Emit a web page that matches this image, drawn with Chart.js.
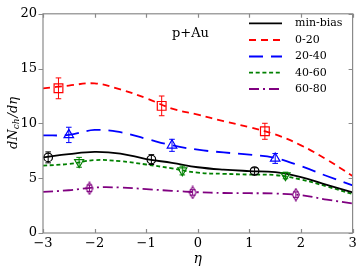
<!DOCTYPE html>
<html><head><meta charset="utf-8">
<script src="https://cdn.jsdelivr.net/npm/chart.js@4/dist/chart.umd.min.js"></script>
<style>html,body{margin:0;padding:0;background:#fff}canvas{display:block}</style>
</head><body>
<canvas id="c" width="360" height="270"></canvas>
<script>
// ---- data ----
const etaGrid = [-3, -2.5, -2, -1.5, -1, -0.5, 0, 0.5, 1, 1.5, 2, 2.5, 3];
const curveMinBias = [6.9, 7.2, 7.4, 7.25, 6.75, 6.4, 6.0, 5.78, 5.65, 5.55, 5.1, 4.4, 3.7];
const curve0_20   = [13.2, 13.45, 13.65, 13.1, 12.3, 11.35, 10.8, 10.2, 9.65, 9.0, 8.0, 6.7, 5.2];
const curve20_40  = [8.9, 8.95, 9.4, 9.2, 8.6, 8.0, 7.6, 7.35, 7.15, 6.85, 6.1, 5.2, 4.35];
const curve40_60  = [6.15, 6.3, 6.65, 6.55, 6.25, 5.9, 5.5, 5.4, 5.33, 5.28, 4.88, 4.25, 3.55];
const curve60_80  = [3.75, 3.9, 4.15, 4.15, 4.0, 3.85, 3.72, 3.65, 3.63, 3.6, 3.45, 3.05, 2.7];

const ptEtaMinBias = [-2.9, -0.9, 1.1];
const ptValMinBias = [6.9, 6.7, 5.65];
const ptErrMinBias = [0.5, 0.45, 0.3];
const ptEta0_20 = [-2.7, -0.7, 1.3];
const ptVal0_20 = [13.2, 11.6, 9.28];
const ptErr0_20 = [0.95, 0.9, 0.73];
const ptEta20_40 = [-2.5, -0.5, 1.5];
const ptVal20_40 = [8.95, 8.0, 6.8];
const ptErr20_40 = [0.7, 0.55, 0.45];
const ptEta40_60 = [-2.3, -0.3, 1.7];
const ptVal40_60 = [6.45, 5.7, 5.25];
const ptErr40_60 = [0.45, 0.4, 0.3];
const ptEta60_80 = [-2.1, -0.1, 1.9];
const ptVal60_80 = [4.08, 3.7, 3.5];
const ptErr60_80 = [0.3, 0.25, 0.25];

const seriesNames = ['min-bias', '0-20', '20-40', '40-60', '60-80'];
const xTickLabels = ['\u22123', '\u22122', '\u22121', '0', '1', '2', '3'];
const yTickLabels = ['0', '5', '10', '15', '20'];
const annotationText = 'p+Au';

// ---- styles ----
const colors = ['#000000', '#ff0000', '#0000ff', '#008000', '#800080'];
const dashes = [[], [7, 5], [14, 8], [4, 2.7], [10, 4, 2, 4]];
const FONT = '"DejaVu Serif", serif';

function thinDiamond(color) {
  const c = document.createElement('canvas');
  c.width = 10; c.height = 14;
  const g = c.getContext('2d');
  g.strokeStyle = color; g.lineWidth = 1.2;
  g.beginPath(); g.moveTo(5, 1); g.lineTo(8.5, 7); g.lineTo(5, 13); g.lineTo(1.5, 7); g.closePath(); g.stroke();
  return c;
}
const markerStyles = [
  {pointStyle: 'circle', radius: 4.3, rotation: 0},
  {pointStyle: 'rect', radius: 6.2, rotation: 0},
  {pointStyle: 'triangle', radius: 5.5, rotation: 0},
  {pointStyle: 'triangle', radius: 5.2, rotation: 180},
  {pointStyle: thinDiamond('#800080'), radius: 5, rotation: 0}
];

const curves = [curveMinBias, curve0_20, curve20_40, curve40_60, curve60_80];
const ptEtas = [ptEtaMinBias, ptEta0_20, ptEta20_40, ptEta40_60, ptEta60_80];
const ptVals = [ptValMinBias, ptVal0_20, ptVal20_40, ptVal40_60, ptVal60_80];
const ptErrs = [ptErrMinBias, ptErr0_20, ptErr20_40, ptErr40_60, ptErr60_80];

const datasets = [];
curves.forEach((cv, i) => {
  datasets.push({
    label: seriesNames[i],
    data: etaGrid.map((x, k) => ({x, y: cv[k]})),
    borderColor: colors[i], borderWidth: 1.8, borderDash: dashes[i],
    pointRadius: 0, tension: 0.4, fill: false, order: 2
  });
});
ptEtas.forEach((xs, i) => {
  datasets.push({
    label: seriesNames[i] + ' data',
    data: xs.map((x, k) => ({x, y: ptVals[i][k]})),
    errors: ptErrs[i],
    showLine: false, borderColor: colors[i], backgroundColor: 'rgba(0,0,0,0)',
    pointStyle: markerStyles[i].pointStyle, pointRadius: markerStyles[i].radius,
    pointRotation: markerStyles[i].rotation, pointBorderWidth: 1.2,
    pointBorderColor: colors[i], pointBackgroundColor: 'rgba(0,0,0,0)', order: 1
  });
});

const decor = {
  id: 'decor',
  afterDatasetsDraw(chart) {
    const ctx = chart.ctx, a = chart.chartArea;
    const xs = chart.scales.x, ys = chart.scales.y;
    // error bars
    chart.data.datasets.forEach((ds, di) => {
      if (!ds.errors) return;
      ctx.save();
      ctx.strokeStyle = ds.borderColor; ctx.lineWidth = 1;
      ds.data.forEach((p, k) => {
        const px = xs.getPixelForValue(p.x);
        const top = ys.getPixelForValue(p.y + ds.errors[k]);
        const bot = ys.getPixelForValue(p.y - ds.errors[k]);
        ctx.beginPath();
        ctx.moveTo(px, top); ctx.lineTo(px, bot);
        ctx.moveTo(px - 2.8, top); ctx.lineTo(px + 2.8, top);
        ctx.moveTo(px - 2.8, bot); ctx.lineTo(px + 2.8, bot);
        ctx.stroke();
      });
      ctx.restore();
    });
    // frame + ticks
    ctx.save();
    ctx.strokeStyle = '#8a8a8a'; ctx.lineWidth = 1.2;
    ctx.strokeRect(a.left, a.top, a.right - a.left, a.bottom - a.top);
    ctx.beginPath();
    xs.ticks.forEach(t => {
      const px = Math.round(xs.getPixelForValue(t.value)) + 0.5;
      ctx.moveTo(px, a.bottom); ctx.lineTo(px, a.bottom - 4);
      ctx.moveTo(px, a.top); ctx.lineTo(px, a.top + 4);
    });
    ys.ticks.forEach(t => {
      const py = Math.round(ys.getPixelForValue(t.value)) + 0.5;
      ctx.moveTo(a.left, py); ctx.lineTo(a.left - 4.5, py);
      ctx.moveTo(a.right, py); ctx.lineTo(a.right - 4, py);
    });
    ctx.stroke();
    ctx.restore();
    // annotation
    ctx.save();
    ctx.fillStyle = '#000'; ctx.font = '13px ' + FONT; ctx.textBaseline = 'middle';
    ctx.fillText(annotationText, 172, 34);
    // legend
    ctx.font = '11px ' + FONT;
    const ly = [23.3, 40, 56.5, 72.7, 89];
    seriesNames.forEach((n, i) => {
      ctx.strokeStyle = colors[i]; ctx.lineWidth = 1.8; ctx.setLineDash(dashes[i]);
      ctx.beginPath(); ctx.moveTo(249, ly[i]); ctx.lineTo(282, ly[i]); ctx.stroke();
      ctx.setLineDash([]);
      ctx.fillText(n, 295, ly[i]);
    });
    // axis titles
    ctx.font = 'italic 14px ' + FONT; ctx.textAlign = 'center';
    ctx.fillText('\u03b7', (a.left + a.right) / 2, 259);
    ctx.translate(14, (a.top + a.bottom) / 2);
    ctx.rotate(-Math.PI / 2);
    ctx.textAlign = 'left';
    const f1 = 'italic 13px ' + FONT, f2 = 'italic 9px ' + FONT;
    ctx.font = f1; const w1 = ctx.measureText('dN').width;
    ctx.font = f2; const w2 = ctx.measureText('ch').width;
    ctx.font = f1; const w3 = ctx.measureText('/d\u03b7').width;
    let x0 = -(w1 + w2 + w3) / 2;
    ctx.font = f1; ctx.fillText('dN', x0, 0);
    ctx.font = f2; ctx.fillText('ch', x0 + w1, 3);
    ctx.font = f1; ctx.fillText('/d\u03b7', x0 + w1 + w2 + 1, 0);
    ctx.restore();
  }
};

new Chart(document.getElementById('c'), {
  type: 'line',
  data: {datasets},
  options: {
    responsive: false, animation: false,
    layout: {padding: {top: 9, right: 7, left: 0, bottom: 0}},
    plugins: {legend: {display: false}, tooltip: {enabled: false}},
    scales: {
      x: {
        type: 'linear', min: -3, max: 3,
        afterFit(s) { s.height = 37; },
        grid: {display: false, drawTicks: false},
        border: {display: false},
        ticks: {stepSize: 1, padding: 3, color: '#000', font: {family: FONT, size: 13},
          callback: (v) => xTickLabels[Math.round(v) + 3]}
      },
      y: {
        type: 'linear', min: 0, max: 20,
        afterFit(s) { s.width = 43; },
        grid: {display: false, drawTicks: false},
        border: {display: false},
        ticks: {stepSize: 5, padding: 6, color: '#000', font: {family: FONT, size: 13},
          callback: (v) => yTickLabels[Math.round(v / 5)]}
      }
    }
  },
  plugins: [decor]
});
</script>
</body></html>
